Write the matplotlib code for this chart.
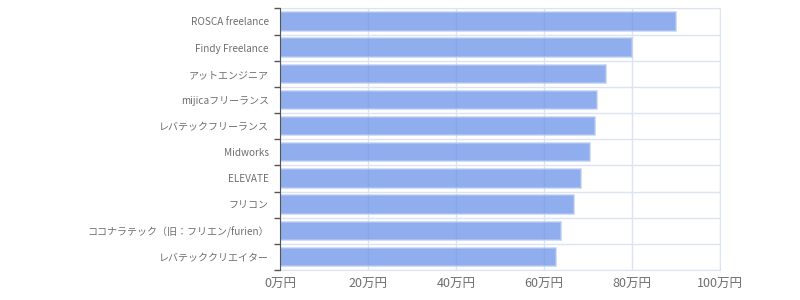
import matplotlib.pyplot as plt
import numpy as np

plt.rcParams['font.family'] = ['Noto Sans CJK JP', 'DejaVu Sans']

# データ（万円）
services = ['ROSCA freelance', 'Findy Freelance', 'アットエンジニア', 'mijicaフリーランス',
            'レバテックフリーランス', 'Midworks', 'ELEVATE', 'フリコン',
            'ココナラテック（旧：フリエン/furien）', 'レバテッククリエイター']
values = [90.0, 80.0, 74.2, 72.0, 71.7, 70.5, 68.3, 66.9, 63.8, 62.7]
x_ticks = [0, 20, 40, 60, 80, 100]
x_labels = [f'{v}万円' for v in x_ticks]

grid_c = '#dce3f3'
text_c = '#6e6e6e'

fig = plt.figure(figsize=(8, 3), dpi=100)
ax = fig.add_axes([0.35, 0.1, 0.55, 0.872])

y = np.arange(len(services))
ax.barh(y, values, height=0.7, color='#6b93e8', alpha=0.75,
        edgecolor='#b8caf3', linewidth=1.2, zorder=2)

ax.set_xlim(0, 100)
ax.set_ylim(len(services) - 0.5, -0.5)

ax.set_xticks(x_ticks)
ax.set_xticklabels(x_labels, fontsize=9, color=text_c)
ax.tick_params(axis='x', length=0, pad=6)

ax.set_yticks(y)
ax.set_yticklabels(services, fontsize=7.2, color=text_c)
ax.set_yticks(np.arange(len(services) + 1) - 0.5, minor=True)
ax.tick_params(axis='y', which='major', length=0, pad=8)
ax.tick_params(axis='y', which='minor', length=4, width=1, color='#555555')

ax.grid(True, axis='x', which='major', color=grid_c, linewidth=1, zorder=0)
ax.grid(True, axis='y', which='minor', color=grid_c, linewidth=1, zorder=0)
ax.set_axisbelow(True)

for s in ['top', 'right', 'bottom']:
    ax.spines[s].set_color(grid_c)
ax.spines['left'].set_color('#555555')
ax.spines['left'].set_zorder(3)

fig.savefig('out.png', dpi=100)
